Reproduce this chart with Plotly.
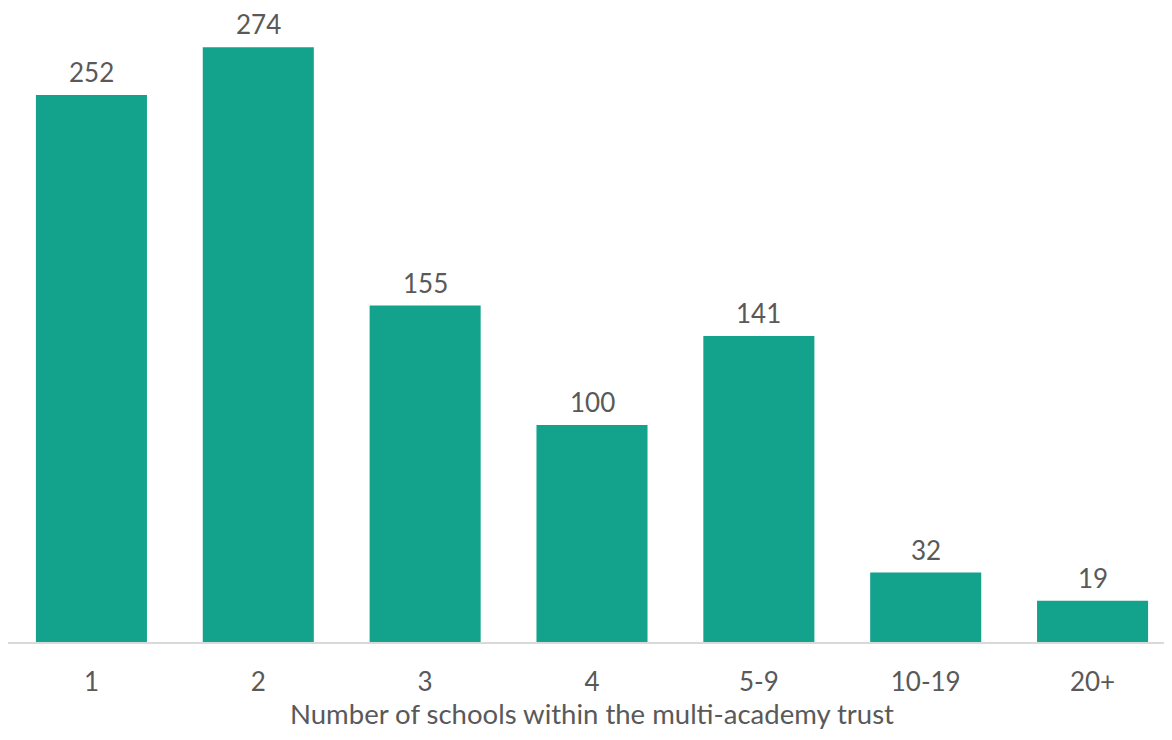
import plotly.graph_objects as go

categories = ["1", "2", "3", "4", "5-9", "10-19", "20+"]
values = [252, 274, 155, 100, 141, 32, 19]

TXT = "#595959"
FONT = "Lato, 'Open Sans', sans-serif"

fig = go.Figure()
fig.add_trace(go.Bar(
    x=categories, y=values,
    marker=dict(color="#13a28c", line=dict(width=0)),
    hoverinfo="x+y",
))
for i, v in enumerate(values):
    fig.add_annotation(x=i, y=v, text=str(v), showarrow=False,
                       xref="x", yref="y",
                       yanchor="bottom", yshift=6, borderpad=0,
                       font=dict(family=FONT, size=26, color=TXT))

fig.update_layout(
    width=1172, height=740,
    margin=dict(l=0, r=4, t=12, b=106),
    plot_bgcolor="white", paper_bgcolor="white",
    bargap=0.3345,
    showlegend=False,
    font=dict(family=FONT, size=26, color=TXT),
    xaxis=dict(
        showline=True, linecolor="#d9d9d9", linewidth=1.5,
        showgrid=False, ticks="", ticklabelstandoff=16,
        tickfont=dict(family=FONT, size=26, color=TXT),
        title=dict(text="Number of schools within the multi-academy trust",
                   font=dict(family=FONT, size=27.5, color=TXT), standoff=9),
        automargin=False,
    ),
    yaxis=dict(range=[0, 286.6], visible=False, showgrid=False, zeroline=False),
)
fig.write_html("out.html")
